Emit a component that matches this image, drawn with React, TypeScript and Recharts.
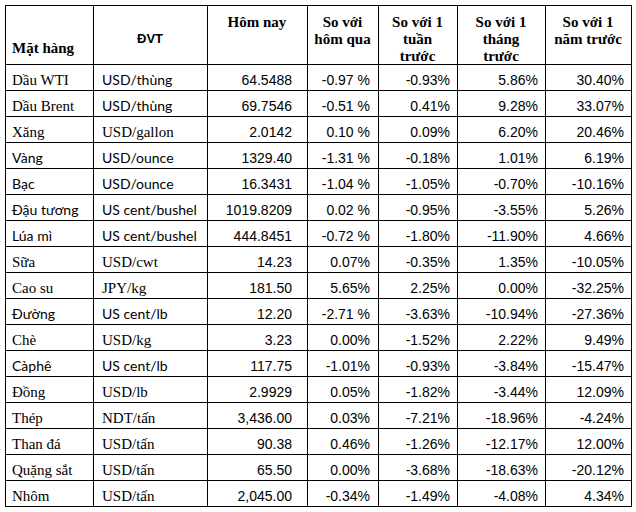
import { Bar, ComposedChart, LabelList, XAxis, YAxis } from "recharts";

const items = [
  "Dầu WTI", "Dầu Brent", "Xăng", "Vàng", "Bạc", "Đậu tương", "Lúa mì", "Sữa", "Cao su",
  "Đường", "Chè", "Càphê", "Đồng", "Thép", "Than đá", "Quặng sắt", "Nhôm",
];
const units = [
  "USD/thùng", "USD/thùng", "USD/gallon", "USD/ounce", "USD/ounce", "US cent/bushel",
  "US cent/bushel", "USD/cwt", "JPY/kg", "US cent/lb", "USD/kg", "US cent/lb", "USD/lb",
  "NDT/tấn", "USD/tấn", "USD/tấn", "USD/tấn",
];
const today = [
  "64.5488", "69.7546", "2.0142", "1329.40", "16.3431", "1019.8209", "444.8451", "14.23",
  "181.50", "12.20", "3.23", "117.75", "2.9929", "3,436.00", "90.38", "65.50", "2,045.00",
];
const vsYesterday = [
  "-0.97 %", "-0.51 %", "0.10 %", "-1.31 %", "-1.04 %", "0.02 %", "-0.72 %", "0.07%",
  "5.65%", "-2.71 %", "0.00%", "-1.01%", "0.05%", "0.03%", "0.46%", "0.00%", "-0.34%",
];
const vsWeek = [
  "-0.93%", "0.41%", "0.09%", "-0.18%", "-1.05%", "-0.95%", "-1.80%", "-0.35%", "2.25%",
  "-3.63%", "-1.52%", "-0.93%", "-1.82%", "-7.21%", "-1.26%", "-3.68%", "-1.49%",
];
const vsMonth = [
  "5.86%", "9.28%", "6.20%", "1.01%", "-0.70%", "-3.55%", "-11.90%", "1.35%", "0.00%",
  "-10.94%", "2.22%", "-3.84%", "-3.44%", "-18.96%", "-12.17%", "-18.63%", "-4.08%",
];
const vsYear = [
  "30.40%", "33.07%", "20.46%", "6.19%", "-10.16%", "5.26%", "4.66%", "-10.05%", "-32.25%",
  "-27.36%", "9.49%", "-15.47%", "12.09%", "-4.24%", "12.00%", "-20.12%", "4.34%",
];
const headers = [
  ["Mặt hàng"],
  ["ĐVT"],
  ["Hôm nay"],
  ["So với", "hôm qua"],
  ["So với 1", "tuần", "trước"],
  ["So với 1", "tháng", "trước"],
  ["So với 1", "năm trước"],
];

// which cells were typed in a Calibri-like font in the source sheet
const itemSans = [false, false, false, true, true, true, true, false, false, true, false, true, false, false, false, false, false];
const unitSans = [true, true, false, true, true, true, true, false, false, true, false, true, false, false, false, false, false];

const SERIF = '"Liberation Serif", "Times New Roman", serif';
const ARIAL = '"Liberation Sans", Arial, sans-serif';
const CALIBRI = 'Lato, "Open Sans", sans-serif';

const COL_W = [88, 114, 100, 71, 79, 88, 86];
const TOTAL_W = COL_W.reduce((a, b) => a + b, 0);
const columns = [items, units, today, vsYesterday, vsWeek, vsMonth, vsYear];

const rows = items.map((name, i) => {
  const row: Record<string, string | number> = { name };
  COL_W.forEach((w, c) => {
    row[`w${c}`] = w;
    row[`t${c}`] = columns[c][i];
  });
  return row;
});

const headerRow = (() => {
  const row: Record<string, string | number> = { name: "header" };
  COL_W.forEach((w, c) => {
    row[`w${c}`] = w;
    row[`t${c}`] = headers[c].join("\n");
  });
  return [row];
})();

const cellShape = (p: any) => (
  <rect
    x={p.x}
    y={p.y}
    width={p.width}
    height={p.height}
    fill="#fff"
    stroke="#000"
    strokeWidth={1}
    shapeRendering="crispEdges"
  />
);

const bodyLabel = (col: number) => (props: any) => {
  const vb = props.viewBox ?? props;
  const { x, y, width, height } = vb;
  const i = props.index ?? 0;
  const base = y + height - 5;
  if (col === 0 || col === 1) {
    const sans = col === 0 ? itemSans[i] : unitSans[i];
    return (
      <text
        x={x + (col === 0 ? 7 : 9)}
        y={base}
        fontFamily={sans ? CALIBRI : SERIF}
        fontSize={sans ? 14 : 15}
        fill="#000"
      >
        {props.value}
      </text>
    );
  }
  const pad = col === 2 ? 15 : col === 3 ? 8 : 7;
  return (
    <text x={x + width - pad} y={base} textAnchor="end" fontFamily={ARIAL} fontSize={14} fill="#000">
      {props.value}
    </text>
  );
};

const headerLabel = (col: number) => (props: any) => {
  const vb = props.viewBox ?? props;
  const { x, y, width } = vb;
  const lines = String(props.value).split("\n");
  if (col === 0) {
    return (
      <text x={x + 7} y={y + 48} fontFamily={SERIF} fontWeight="bold" fontSize={15} fill="#000">
        {lines[0]}
      </text>
    );
  }
  if (col === 1) {
    return (
      <text x={x + width / 2} y={y + 38} textAnchor="middle" fontFamily={ARIAL} fontWeight="bold" fontSize={13} fill="#000">
        {lines[0]}
      </text>
    );
  }
  return (
    <text textAnchor="middle" fontFamily={SERIF} fontWeight="bold" fontSize={15} fill="#000">
      {lines.map((l, k) => (
        <tspan key={k} x={x + width / 2} y={y + 22 + k * 17}>
          {l}
        </tspan>
      ))}
    </text>
  );
};

function TableBars({ data, label }: { data: any[]; label: (c: number) => (p: any) => any }) {
  return COL_W.map((_, c) => (
    <Bar
      key={c}
      dataKey={`w${c}`}
      stackId="row"
      shape={cellShape}
      isAnimationActive={false}
    >
      <LabelList dataKey={`t${c}`} content={label(c)} />
    </Bar>
  ));
}

export default function App() {
  return (
    <div style={{ position: "absolute", left: 0, top: 0, width: 636, height: 512, background: "#fff" }}>
      <ComposedChart
        width={636}
        height={64}
        data={headerRow}
        layout="vertical"
        barCategoryGap={0}
        margin={{ top: 5, right: 5, bottom: 0, left: 5 }}
      >
        <XAxis type="number" domain={[0, TOTAL_W]} hide />
        <YAxis type="category" dataKey="name" hide />
        {TableBars({ data: headerRow, label: headerLabel })}
      </ComposedChart>
      <ComposedChart
        width={636}
        height={448}
        data={rows}
        layout="vertical"
        barCategoryGap={0}
        margin={{ top: 0, right: 5, bottom: 6, left: 5 }}
      >
        <XAxis type="number" domain={[0, TOTAL_W]} hide />
        <YAxis type="category" dataKey="name" hide />
        {TableBars({ data: rows, label: bodyLabel })}
      </ComposedChart>
    </div>
  );
}
